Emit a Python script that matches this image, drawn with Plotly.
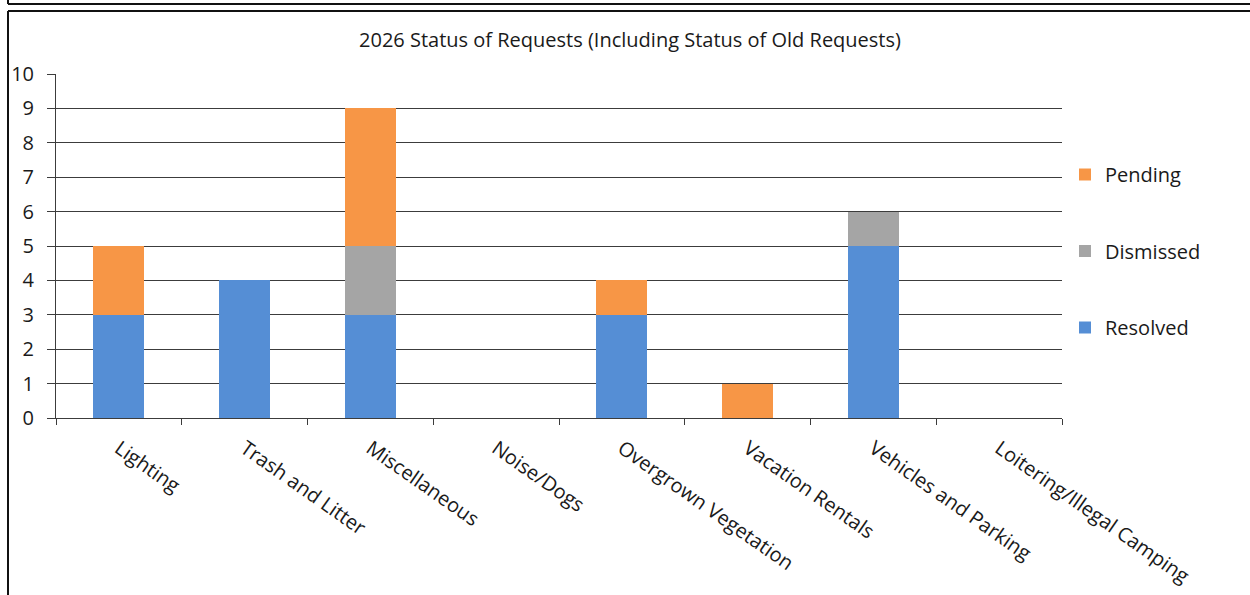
import plotly.graph_objects as go

categories = ["Lighting", "Trash and Litter", "Miscellaneous", "Noise/Dogs",
              "Overgrown Vegetation", "Vacation Rentals", "Vehicles and Parking",
              "Loitering/Illegal Camping"]
resolved = [3, 4, 3, 0, 3, 0, 5, 0]
dismissed = [0, 0, 2, 0, 0, 0, 1, 0]
pending = [2, 0, 4, 0, 1, 1, 0, 0]
y_ticks = list(range(0, 11))

FONT = "Open Sans"
FS = 20
TXT = "#1a1a1a"
fig = go.Figure()
for name, vals, col, rank in [("Resolved", resolved, "#558ED5", 3),
                              ("Dismissed", dismissed, "#A5A5A5", 2),
                              ("Pending", pending, "#F79646", 1)]:
    fig.add_trace(go.Bar(x=categories, y=vals, name=name, marker_color=col,
                         marker_line_width=0, legendgroup=name, legendrank=rank))

W, H = 1250, 595
L, R, T, B = 56, 188, 74, 177
pw, ph = W - L - R, H - T - B

def px(x):
    return (x - L) / pw

def py(y):
    return 1 - (y - T) / ph

fig.update_layout(
    width=W, height=H,
    margin=dict(l=L, r=R, t=T, b=B, pad=0, autoexpand=False),
    barmode="stack", bargap=0.595,
    paper_bgcolor="white", plot_bgcolor="white",
    font=dict(family=FONT, size=FS, color=TXT),
    title=dict(text="2026 Status of Requests (Including Status of Old Requests)",
               x=0.504, xref="container", xanchor="center",
               y=1 - 40 / H, yref="container", yanchor="middle",
               font=dict(family=FONT, size=FS, color=TXT)),
    legend=dict(x=px(1065), xanchor="left", y=py(155), yanchor="top",
                traceorder="grouped", tracegroupgap=47.5,
                font=dict(family=FONT, size=FS, color=TXT),
                itemwidth=30, bgcolor="rgba(0,0,0,0)"),
    xaxis=dict(type="category", tickangle=35, tickson="boundaries",
               ticks="outside", ticklen=6, tickcolor="#3c3c3c",
               showline=True, linecolor="#3c3c3c", linewidth=1,
               showgrid=False, ticklabelstandoff=10, automargin=False,
               tickfont=dict(family=FONT, size=FS, color=TXT)),
    yaxis=dict(range=[0, 10], tickvals=y_ticks, ticks="outside", ticklen=8,
               tickcolor="#3c3c3c", showline=True, linecolor="#3c3c3c",
               showgrid=True, gridcolor="#3c3c3c", gridwidth=1,
               zeroline=False, ticklabelstandoff=9, automargin=False,
               tickfont=dict(family=FONT, size=FS, color=TXT)),
    shapes=[
        dict(type="line", xref="paper", yref="paper", x0=px(8), x1=px(1250),
             y0=py(11), y1=py(11), line=dict(color="#111", width=2)),
        dict(type="line", xref="paper", yref="paper", x0=px(8), x1=px(8),
             y0=py(11), y1=py(595), line=dict(color="#111", width=2)),
        dict(type="line", xref="paper", yref="paper", x0=px(8), x1=px(1250),
             y0=py(4), y1=py(4), line=dict(color="#111", width=2)),
        dict(type="line", xref="paper", yref="paper", x0=px(8), x1=px(8),
             y0=py(0), y1=py(4), line=dict(color="#111", width=2)),
    ],
)
fig.write_html("out.html")
